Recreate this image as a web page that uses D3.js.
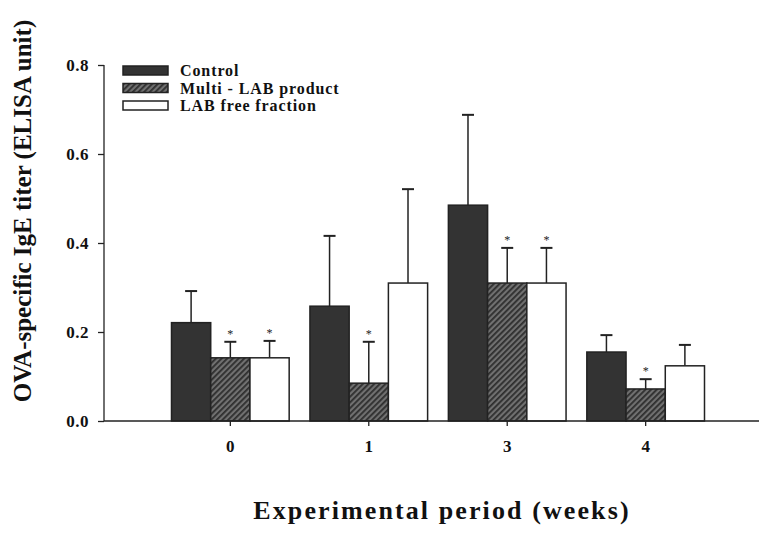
<!DOCTYPE html>
<html>
<head>
<meta charset="utf-8">
<script src="https://cdn.jsdelivr.net/npm/d3@7"></script>
<style>
  body { margin: 0; background: #fff; }
  text { font-family: "Liberation Serif", "Times New Roman", serif; font-weight: bold; }
</style>
</head>
<body>
<div id="chart"></div>
<script>
// Data
const weeks = ['0', '1', '3', '4'];
const seriesNames = ['Control', 'Multi - LAB product', 'LAB free fraction'];
const controlMean = [0.221, 0.258, 0.485, 0.155];
const controlErr  = [0.292, 0.416, 0.688, 0.193];
const multiMean   = [0.142, 0.085, 0.310, 0.072];
const multiErr    = [0.178, 0.178, 0.389, 0.094];
const freeMean    = [0.142, 0.310, 0.310, 0.124];
const freeErr     = [0.180, 0.521, 0.389, 0.171];
// significance marks (* over bar)
const multiStar = [true, true, true, true];
const freeStar  = [true, false, true, false];
const yTicks = [0, 0.2, 0.4, 0.6, 0.8];

const W = 759, H = 536;
const svg = d3.select('#chart').append('svg')
    .attr('width', W).attr('height', H);

const defs = svg.append('defs');
const pat = defs.append('pattern')
    .attr('id', 'hatch')
    .attr('patternUnits', 'userSpaceOnUse')
    .attr('width', 4).attr('height', 4)
    .attr('patternTransform', 'rotate(45)');
pat.append('rect').attr('width', 4).attr('height', 4).attr('fill', '#707070');
pat.append('rect').attr('width', 1.8).attr('height', 4).attr('fill', '#2e2e2e');

// scales
const y = d3.scaleLinear().domain([0, 0.8]).range([421, 65]);
const x0 = d3.scaleBand().domain(weeks).range([171.5, 704.5]).paddingInner(0.15);
const x1 = d3.scaleBand().domain(seriesNames).range([0, x0.bandwidth()]);
const fills = {
    'Control': '#333333',
    'Multi - LAB product': 'url(#hatch)',
    'LAB free fraction': '#ffffff'
};

const rows = weeks.map((w, i) => ({
    week: w,
    bars: [
        { name: seriesNames[0], v: controlMean[i], e: controlErr[i], star: false },
        { name: seriesNames[1], v: multiMean[i], e: multiErr[i], star: multiStar[i] },
        { name: seriesNames[2], v: freeMean[i], e: freeErr[i], star: freeStar[i] }
    ]
}));

// y axis
const yAxis = svg.append('g')
    .attr('transform', 'translate(104,0)')
    .call(d3.axisLeft(y).tickValues(yTicks).tickFormat(d3.format('.1f')).tickSize(6).tickPadding(9));
yAxis.select('.domain').attr('d', `M0,${y(0.8)}V${y(0)}`).attr('stroke', '#222').attr('stroke-width', 1.3);
yAxis.selectAll('.tick line').attr('stroke', '#222').attr('stroke-width', 1.3);
yAxis.selectAll('.tick text')
    .style('font-family', '"Liberation Serif", serif')
    .style('font-weight', 'bold')
    .style('font-size', '17px')
    .style('letter-spacing', '0.5px')
    .attr('fill', '#111');

// bars
const groups = svg.selectAll('.grp').data(rows).enter().append('g')
    .attr('transform', d => `translate(${x0(d.week)},0)`);

const bar = groups.selectAll('.b').data(d => d.bars).enter().append('g');

// error bars (upper only)
bar.append('line')
    .attr('x1', d => x1(d.name) + x1.bandwidth() / 2)
    .attr('x2', d => x1(d.name) + x1.bandwidth() / 2)
    .attr('y1', d => y(d.v))
    .attr('y2', d => y(d.e))
    .attr('stroke', '#222').attr('stroke-width', 1.5);
bar.append('line')
    .attr('x1', d => x1(d.name) + x1.bandwidth() / 2 - 6)
    .attr('x2', d => x1(d.name) + x1.bandwidth() / 2 + 6)
    .attr('y1', d => y(d.e))
    .attr('y2', d => y(d.e))
    .attr('stroke', '#222').attr('stroke-width', 2);

bar.append('rect')
    .attr('x', d => x1(d.name))
    .attr('y', d => y(d.v))
    .attr('width', x1.bandwidth())
    .attr('height', d => y(0) - y(d.v))
    .attr('fill', d => fills[d.name])
    .attr('stroke', '#222')
    .attr('stroke-width', 1.5);

bar.filter(d => d.star).append('text')
    .attr('x', d => x1(d.name) + x1.bandwidth() / 2)
    .attr('y', d => y(d.e) - 4)
    .attr('text-anchor', 'middle')
    .style('font-size', '12px')
    .style('font-weight', 'normal')
    .attr('fill', '#222')
    .text('*');

// x axis
const xAxis = svg.append('g')
    .attr('transform', `translate(0,${y(0)})`)
    .call(d3.axisBottom(x0).tickSize(5).tickPadding(14));
xAxis.select('.domain').attr('d', `M104,0H759`).attr('stroke', '#222').attr('stroke-width', 1.3);
xAxis.selectAll('.tick line').attr('stroke', '#222').attr('stroke-width', 1.3);
xAxis.selectAll('.tick text')
    .style('font-family', '"Liberation Serif", serif')
    .style('font-weight', 'bold')
    .style('font-size', '17px')
    .attr('fill', '#111');

// legend
const legend = svg.append('g').attr('transform', 'translate(123,66)');
seriesNames.forEach((name, i) => {
    const row = legend.append('g').attr('transform', `translate(0,${i * 17.5})`);
    row.append('rect')
        .attr('width', 45).attr('height', 9)
        .attr('fill', fills[name])
        .attr('stroke', '#222').attr('stroke-width', 1.5);
    row.append('text')
        .attr('x', 57).attr('y', 10)
        .style('font-size', '16px')
        .style('letter-spacing', '0.9px')
        .attr('fill', '#111')
        .text(name);
});

// axis titles
svg.append('text')
    .attr('transform', 'translate(31,211) rotate(-90)')
    .attr('text-anchor', 'middle')
    .style('font-size', '25px')
    .attr('fill', '#111')
    .text('OVA-specific IgE titer (ELISA unit)');

svg.append('text')
    .attr('x', 442).attr('y', 519)
    .attr('text-anchor', 'middle')
    .style('font-size', '26px')
    .style('letter-spacing', '2.1px')
    .attr('fill', '#111')
    .text('Experimental period (weeks)');
</script>
</body>
</html>
